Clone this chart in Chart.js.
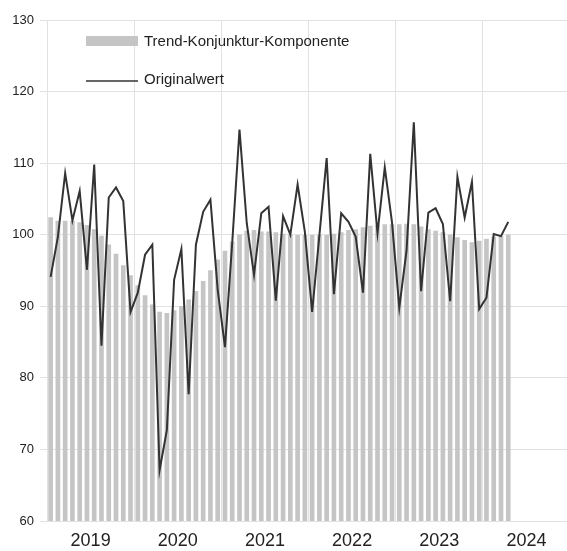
<!DOCTYPE html>
<html>
<head>
<meta charset="utf-8">
<script src="https://cdn.jsdelivr.net/npm/chart.js@4"></script>
<style>
  html, body { margin: 0; padding: 0; overflow: hidden; background: #fff; }
  canvas { display: block; }
</style>
</head>
<body>
<canvas id="grafico" width="570" height="551"></canvas>
<script>
const jahre = ['2019', '2020', '2021', '2022', '2023', '2024'];

// Monatswerte Jan 2019 bis Apr 2024
const trend = [
  102.4, 101.9, 101.9, 101.9, 101.7, 101.3, 100.7, 99.8, 98.6, 97.3, 95.7, 94.3,
  92.9, 91.5, 90.2, 89.2, 89.0, 89.4, 90.0, 90.9, 92.1, 93.5, 95.0, 96.5,
  97.7, 99.0, 100.0, 100.5, 100.6, 100.4, 100.4, 100.3, 100.1, 100.0, 99.9, 99.9,
  99.9, 99.9, 99.9, 100.1, 100.3, 100.6, 100.7, 101.0, 101.2, 101.3, 101.4, 101.4,
  101.4, 101.5, 101.4, 101.1, 100.7, 100.5, 100.3, 100.0, 99.6, 99.2, 98.9, 99.1,
  99.4, 99.7, 99.8, 100.0
];

const original = [
  94.1, 99.7, 108.6, 102.0, 106.1, 95.1, 109.8, 84.5, 105.2, 106.6, 104.7, 89.2,
  91.9, 97.2, 98.6, 67.1, 72.7, 93.7, 98.0, 77.7, 98.6, 103.2, 104.9, 92.3,
  84.3, 98.9, 114.7, 101.6, 94.4, 103.0, 103.9, 90.8, 102.6, 100.0, 107.0, 100.4,
  89.2, 99.9, 110.7, 91.7, 103.0, 101.8, 99.7, 91.9, 111.3, 100.2, 109.4, 101.7,
  89.8, 97.8, 115.7, 92.1, 103.1, 103.7, 101.5, 90.7, 108.1, 102.4, 107.4, 89.6,
  91.2, 100.1, 99.8, 101.8
];

const monate = [];
jahre.forEach(j => {
  for (let m = 1; m <= 12; m++) monate.push(j + '-' + String(m).padStart(2, '0'));
});

const schrift = '"Liberation Sans", Arial, sans-serif';

// Legende innerhalb der Zeichenfläche
const legendePlugin = {
  id: 'legendeInnen',
  afterDraw(chart) {
    const ctx = chart.ctx;
    const ds = chart.data.datasets;
    ctx.save();
    ctx.font = '15px ' + schrift;
    ctx.textBaseline = 'middle';
    ctx.fillStyle = ds[1].backgroundColor;
    ctx.fillRect(86, 36, 52, 10);
    ctx.fillStyle = '#222';
    ctx.fillText(ds[1].label, 144, 42);
    ctx.strokeStyle = ds[0].borderColor;
    ctx.lineWidth = 1.6;
    ctx.beginPath();
    ctx.moveTo(86, 81);
    ctx.lineTo(138, 81);
    ctx.stroke();
    ctx.fillText(ds[0].label, 144, 80);
    ctx.restore();
  }
};

const ctx = document.getElementById('grafico').getContext('2d');
new Chart(ctx, {
  type: 'bar',
  data: {
    labels: monate,
    datasets: [
      {
        type: 'line',
        label: 'Originalwert',
        data: original,
        borderColor: '#333333',
        borderWidth: 2,
        pointRadius: 0,
        tension: 0,
        order: 0
      },
      {
        type: 'bar',
        label: 'Trend-Konjunktur-Komponente',
        data: trend,
        backgroundColor: '#c5c5c5',
        barThickness: 4,
        order: 1
      }
    ]
  },
  plugins: [legendePlugin],
  options: {
    responsive: false,
    animation: false,
    layout: { padding: { top: 20, right: 0, left: 0, bottom: 0 } },
    plugins: {
      legend: { display: false },
      tooltip: { enabled: false }
    },
    scales: {
      x: {
        offset: true,
        border: { display: false },
        grid: {
          offset: true,
          tickLength: 9,
          tickColor: 'rgba(0,0,0,0)',
          color: c => (c.index % 12 === 0 ? '#e2e2e2' : 'rgba(0,0,0,0)')
        },
        ticks: {
          autoSkip: false,
          maxRotation: 0,
          minRotation: 0,
          labelOffset: -3.6,
          padding: 0,
          color: '#222',
          font: { family: schrift, size: 18 },
          callback: (v, i) => (i % 12 === 6 ? jahre[Math.floor(i / 12)] : '')
        },
        afterFit: s => { s.height = 30; }
      },
      y: {
        min: 60,
        max: 130,
        border: { display: false },
        grid: { color: '#e2e2e2', tickLength: 7 },
        ticks: {
          stepSize: 10,
          padding: 6,
          color: '#222',
          font: { family: schrift, size: 13 }
        },
        afterFit: s => { s.width = 47; }
      }
    }
  }
});
</script>
</body>
</html>
